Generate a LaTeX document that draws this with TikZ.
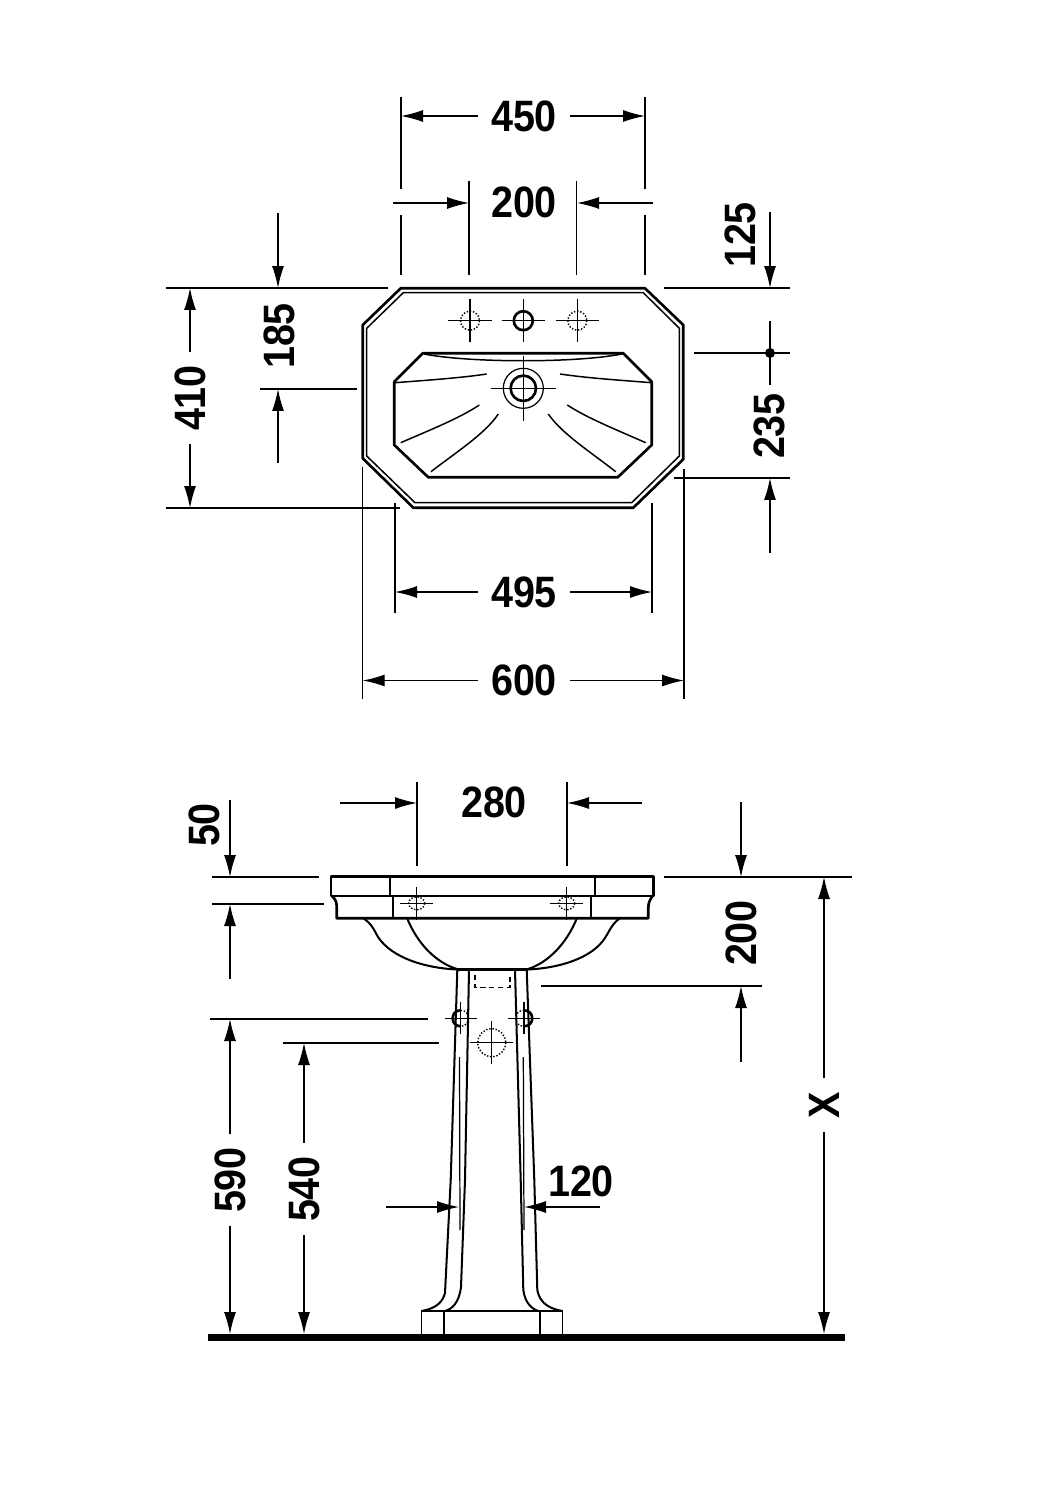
\documentclass[tikz,border=0pt]{standalone}
\usepackage{fontspec}
\newfontfamily\cotafont[FakeStretch=0.9]{Liberation Sans}
\usetikzlibrary{arrows.meta}
\tikzstyle{guia} = [draw, line width=0.7pt]
\tikzstyle{medida} = [draw, line width=0.7pt, -{Latex[length=0.44cm,width=0.24cm]}]
\tikzstyle{texto} = [inner xsep=0.26cm, inner ysep=0pt, font=\cotafont\bfseries\fontsize{25}{25}\selectfont]
\tikzstyle{vtexto} = [texto, rotate=90]
\tikzstyle{grueso} = [draw, line width=1.5pt, line join=round]
\tikzstyle{medio} = [draw, line width=1.15pt, line join=round]
\tikzstyle{fino} = [draw, line width=0.85pt, line join=round]
\tikzstyle{oculto} = [draw, line width=0.8pt, densely dotted]
\newcommand{\cruz}[3]{\path [guia] (#1-#3,#2) -- (#1+#3,#2) (#1,#2-#3) -- (#1,#2+#3);}

\begin{document}
\begin{tikzpicture}[x=0.02cm,y=-0.02cm]
  \useasboundingbox (0,0) rectangle (1057,1500);

  % Top view, washbasin
  \path [grueso] (400.7,288.3) -- (645,288.3) -- (683.3,325) -- (683.3,459.3)
    -- (633.3,507.7) -- (413.3,507.7) -- (362.7,458.3) -- (362.7,325) -- cycle;
  \path [fino] (403.3,292.7) -- (643.3,292.7) -- (679.3,328.3) -- (679.3,456)
    -- (631.7,502.7) -- (415,502.7) -- (366.7,456) -- (366.7,328.3) -- cycle;
  \path [grueso] (422.7,353.3) -- (623.3,353.3) -- (651.7,381.7) -- (651.7,445)
    -- (617.7,477.3) -- (428.3,477.3) -- (394.3,445) -- (394.3,381.7) -- cycle;
  \path [fino] (424,354) .. controls (470,363) and (577,363) .. (621.7,354);
  \path [fino] (395,382.7) .. controls (430,380) and (460,378) .. (486.7,374);
  \path [fino] (651.7,382.7) .. controls (617,380) and (587,378) .. (560,374);
  \path [fino] (400.7,442.7) .. controls (430,430) and (460,418) .. (479.3,405);
  \path [fino] (645.7,442.7) .. controls (617,430) and (587,418) .. (567.3,405);
  \path [fino] (431,471.7) .. controls (455,453) and (485,434) .. (498.3,414);
  \path [fino] (615.7,471.7) .. controls (592,453) and (562,434) .. (548.3,414);

  % Tap holes and drain
  \path [oculto] (470,320.7) circle (9.5);
  \path [oculto] (577.3,320.7) circle (9.5);
  \path [grueso] (523.3,320.7) circle (9.5);
  \cruz{470}{320.7}{21.7}
  \cruz{523.3}{320.7}{21.7}
  \cruz{577.3}{320.7}{21.7}
  \path [guia] (523.3,388.3) circle (20);
  \path [grueso] (523.3,388.3) circle (12.7);
  \cruz{523.3}{388.3}{32.5}

  % Top view, dimensions
  \path (524,116) node (t450) [texto] {450};
  \path (524,202) node (t200a) [texto] {200};
  \path (524,592) node (t495) [texto] {495};
  \path (524,680.5) node (t600) [texto] {600};
  \path (190,398) node (t410) [vtexto] {410};
  \path (279,336) node (t185) [vtexto] {185};
  \path (740,235) node (t125) [vtexto] {125};
  \path (769,426) node (t235) [vtexto] {235};

  \path [guia] (401,97) -- (401,189) (401,215) -- (401,275);
  \path [guia] (645,97) -- (645,189) (645,215) -- (645,275);
  \path [guia] (469,181) -- (469,275);
  \path [guia] (576.5,181) -- (576.5,275);
  \path [medida] (t450.west) -- (401,116);
  \path [medida] (t450.east) -- (645,116);
  \path [medida] (393,203) -- (469,203);
  \path [medida] (653,203) -- (577,203);

  \path [guia] (664,288) -- (790,288);
  \path [guia] (694,353) -- (790,353);
  \path [guia] (674,478) -- (790,478);
  \path [medida] (770,212) -- (770,288);
  \path [guia] (770,321) -- (770,385);
  \path [fill=black] (770,353) circle (5);
  \path [medida] (770,553) -- (770,478);

  \path [guia] (166,288) -- (388,288);
  \path [guia] (166,508) -- (400,508);
  \path [medida] (t410.east) -- (190,288);
  \path [medida] (t410.west) -- (190,508);
  \path [guia] (260,389) -- (357,389);
  \path [medida] (278,213) -- (278,288);
  \path [medida] (278,463) -- (278,389);

  \path [guia] (395,503) -- (395,613);
  \path [guia] (652,503) -- (652,613);
  \path [guia] (362.7,467) -- (362.7,699);
  \path [guia] (684,469) -- (684,699);
  \path [medida] (t495.west) -- (395,592);
  \path [medida] (t495.east) -- (652,592);
  \path [medida] (t600.west) -- (362.7,680.5);
  \path [medida] (t600.east) -- (684,680.5);

  % Front view, washbasin
  \path [grueso] (331,876.7) -- (653.3,876.7) -- (653.3,896) -- (331,896) -- cycle;
  \path [medio] (390,876.7) -- (390,896);
  \path [medio] (595,876.7) -- (595,896);
  \path [grueso] (332,896) .. controls (336,900) and (336.7,902) .. (336.7,908) -- (336.7,918.3)
    -- (648.3,918.3) -- (648.3,908) .. controls (648.3,902) and (650,900) .. (652.5,896);
  \path [medio] (393.3,896) -- (393.3,918.3);
  \path [medio] (591,896) -- (591,918.3);
  \path [medio] (363,918) .. controls (372,924) and (374,930) .. (378,937)
    .. controls (392,958) and (425,968) .. (457,969.5);
  \path [medio] (407,918) .. controls (418,945) and (437,963) .. (457,969);
  \path [medio] (620,918) .. controls (612,924) and (610,930) .. (605,938)
    .. controls (592,958) and (560,968) .. (528,969.5);
  \path [medio] (577,918) .. controls (566,945) and (547,963) .. (528,969);
  \path [medio] (457,969.5) -- (528,969.5);

  % Pedestal
  \path [medio] (457.3,970) -- (450.7,1180) -- (445,1293)
    .. controls (442,1305) and (432,1309) .. (421.7,1311);
  \path [medio] (469,970) -- (465,1180) -- (461,1287)
    .. controls (459,1303) and (452,1309) .. (445,1311);
  \path [medio] (515,970) -- (520.7,1180) -- (523.3,1290)
    .. controls (525,1303) and (532,1309) .. (538.3,1311);
  \path [medio] (526.7,970) -- (534.3,1180) -- (537.3,1290)
    .. controls (540,1305) and (552,1309) .. (562.3,1311);
  \path [fino] (421.7,1311) rectangle (562.3,1335);
  \path [fino] (444,1311) -- (444,1335);
  \path [fino] (540,1311) -- (540,1335);
  \path [guia] (459.5,1057) -- (460,1230);
  \path [guia] (523.3,1057) -- (524,1230);
  \path [fill=black] (208,1334) rectangle (845,1341);

  % Hidden details
  \path [draw, line width=0.8pt, dash pattern=on 3pt off 2pt] (475,975) -- (475,987.3) -- (510,987.3) -- (510,975);
  \path [oculto] (416.7,903.3) ellipse (8 and 6.5);
  \path [oculto] (566.7,903.3) ellipse (8 and 6.5);
  \cruz{416.7}{903.3}{16.5}
  \cruz{566.7}{903.3}{16.5}
  \path [oculto] (491.7,1042.7) circle (14);
  \cruz{491.7}{1042.7}{21.3}
  \path [grueso] (460.7,1010.3) .. controls (450,1010.3) and (450,1026.3) .. (460.7,1026.3);
  \path [oculto] (460.7,1010.3) .. controls (471,1010.3) and (471,1026.3) .. (460.7,1026.3);
  \path [grueso] (524,1010.3) .. controls (535,1010.3) and (535,1026.3) .. (524,1026.3);
  \path [oculto] (524,1010.3) .. controls (513,1010.3) and (513,1026.3) .. (524,1026.3);
  \cruz{460.7}{1018.3}{16}
  \cruz{524}{1018.3}{16}

  % Front view, dimensions
  \path (494,802) node (t280) [texto] {280};
  \path (581,1181) node (t120) [texto] {120};
  \path (204,825) node (t50) [vtexto] {50};
  \path (230,1180) node (t590) [vtexto] {590};
  \path (304,1189) node (t540) [vtexto] {540};
  \path (741,933) node (t200b) [vtexto] {200};
  \path (824,1105) node (tX) [vtexto] {X};

  \path [guia] (417,782) -- (417,866);
  \path [guia] (567,782) -- (567,866);
  \path [medida] (340,803) -- (417,803);
  \path [medida] (642,803) -- (567,803);

  \path [guia] (212,877) -- (319,877);
  \path [guia] (212,904) -- (324,904);
  \path [medida] (230,800) -- (230,877);
  \path [medida] (230,979) -- (230,904);

  \path [guia] (210,1019) -- (428,1019);
  \path [guia] (283,1043) -- (439,1043);
  \path [medida] (t590.east) -- (230,1019);
  \path [medida] (t590.west) -- (230,1334);
  \path [medida] (t540.east) -- (304,1043);
  \path [medida] (t540.west) -- (304,1334);

  \path [medida] (386,1207) -- (459,1207);
  \path [medida] (600,1207) -- (524,1207);

  \path [guia] (664,877) -- (852,877);
  \path [guia] (541,986) -- (762,986);
  \path [medida] (741,802) -- (741,877);
  \path [medida] (741,1062) -- (741,986);
  \path [medida] (tX.east) -- (824,877);
  \path [medida] (tX.west) -- (824,1334);
\end{tikzpicture}
\end{document}
